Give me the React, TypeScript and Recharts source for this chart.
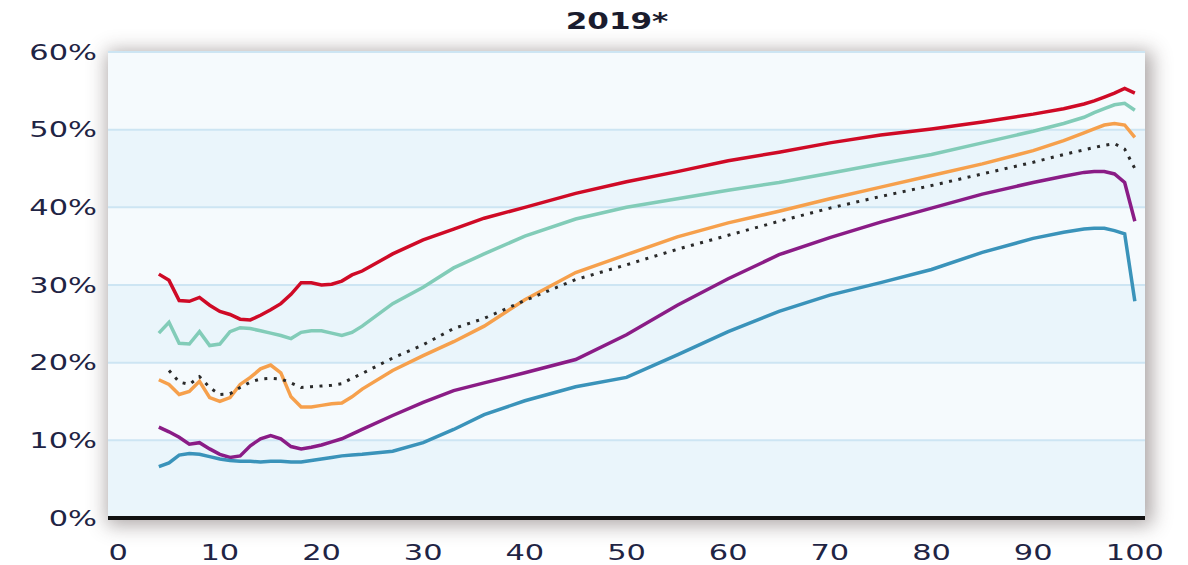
import { CartesianGrid, Line, LineChart, XAxis, YAxis } from "recharts";

const ages = [
	4, 5, 6, 7, 8, 9, 10, 11, 12, 13, 14, 15, 16, 17, 18, 19, 20, 21, 22, 23, 24,
	27, 30, 33, 36, 40, 45, 50, 55, 60, 65, 70, 75, 80, 85, 90, 93, 95, 96, 97,
	98, 99, 100,
];

const red = [
	31.4, 30.6, 28.0, 27.9, 28.4, 27.4, 26.6, 26.2, 25.6, 25.5, 26.1, 26.8, 27.6,
	28.8, 30.3, 30.3, 30.0, 30.1, 30.5, 31.3, 31.8, 34.0, 35.8, 37.2, 38.6, 40.0,
	41.8, 43.3, 44.6, 46.0, 47.1, 48.3, 49.3, 50.1, 51.0, 52.0, 52.7, 53.3, 53.7,
	54.2, 54.7, 55.3, 54.7,
];

const teal = [
	23.8, 25.2, 22.5, 22.4, 24.0, 22.2, 22.4, 24.0, 24.5, 24.4, 24.1, 23.8, 23.5,
	23.1, 23.9, 24.1, 24.1, 23.8, 23.5, 23.9, 24.7, 27.6, 29.7, 32.2, 34.0, 36.3,
	38.5, 40.0, 41.1, 42.2, 43.2, 44.4, 45.6, 46.8, 48.3, 49.8, 50.8, 51.6, 52.2,
	52.7, 53.2, 53.4, 52.5,
];

const orange = [
	17.8, 17.2, 15.9, 16.3, 17.6, 15.5, 15.0, 15.5, 17.2, 18.1, 19.2, 19.7, 18.7,
	15.6, 14.3, 14.3, 14.5, 14.7, 14.8, 15.6, 16.6, 19.0, 20.9, 22.7, 24.7, 28.1,
	31.6, 33.9, 36.2, 38.0, 39.5, 41.1, 42.6, 44.1, 45.6, 47.3, 48.6, 49.6, 50.1,
	50.6, 50.8, 50.6, 49.0,
];

const average = [
	null, 19.0, 17.5, 17.2, 18.2, 16.8, 15.9, 16.0, 16.8, 17.5, 17.9, 18.0, 17.9,
	17.4, 16.8, 16.9, 17.0, 17.1, 17.3, 18.0, 18.6, 20.6, 22.3, 24.4, 25.7, 28.0,
	30.7, 32.6, 34.6, 36.4, 38.2, 39.9, 41.4, 42.8, 44.3, 45.8, 46.8, 47.4, 47.7,
	48.0, 48.2, 47.5, 45.0,
];

const purple = [
	11.7, 11.1, 10.4, 9.5, 9.7, 8.9, 8.2, 7.8, 8.0, 9.3, 10.2, 10.6, 10.2, 9.2,
	8.9, 9.1, 9.4, 9.8, 10.2, 10.8, 11.4, 13.2, 14.9, 16.4, 17.4, 18.7, 20.4, 23.6,
	27.4, 30.8, 33.9, 36.1, 38.1, 39.9, 41.7, 43.2, 44.0, 44.5, 44.6, 44.6, 44.3,
	43.2, 38.2,
];

const blue = [
	6.6, 7.1, 8.1, 8.3, 8.2, 7.9, 7.6, 7.4, 7.3, 7.3, 7.2, 7.3, 7.3, 7.2, 7.2,
	7.4, 7.6, 7.8, 8.0, 8.1, 8.2, 8.6, 9.7, 11.4, 13.3, 15.1, 16.9, 18.1, 21.0,
	24.0, 26.6, 28.7, 30.3, 32.0, 34.2, 36.0, 36.8, 37.2, 37.3, 37.3, 37.0, 36.6,
	27.9,
];

const xTicks = [0, 10, 20, 30, 40, 50, 60, 70, 80, 90, 100];
const yTicks = [0, 10, 20, 30, 40, 50, 60];

const data = ages.map((age, i) => ({
	age,
	red: red[i],
	teal: teal[i],
	orange: orange[i],
	average: average[i],
	purple: purple[i],
	blue: blue[i],
}));

const FONT = '"DejaVu Sans", Verdana, sans-serif';
const TICK_COLOR = "#1f2444";

function YTick({ x, y, payload }: any) {
	return (
		<g transform={`translate(${x},${y})`}>
			<text
				transform="scale(1.45,1)"
				textAnchor="end"
				y={7.5}
				fontSize={21}
				fontFamily={FONT}
				fill={TICK_COLOR}
			>
				{payload.value}%
			</text>
		</g>
	);
}

function XTick({ x, y, payload }: any) {
	return (
		<g transform={`translate(${x},${y})`}>
			<text
				transform="scale(1.45,1)"
				textAnchor="middle"
				y={42}
				fontSize={21}
				fontFamily={FONT}
				fill={TICK_COLOR}
			>
				{payload.value}
			</text>
		</g>
	);
}

export default function App() {
	return (
		<div
			style={{
				position: "absolute",
				left: 0,
				top: 0,
				width: 1188,
				height: 565,
				background: "#fff",
				overflow: "hidden",
			}}
		>
			{/* shadow behind the plot area */}
			<div
				style={{
					position: "absolute",
					left: 108,
					top: 52,
					width: 1037,
					height: 466,
					background: "#fff",
					boxShadow: "3px 3px 18px 4px rgba(60,45,45,0.42)",
				}}
			/>
			<div
				style={{
					position: "absolute",
					left: 617,
					top: 10,
					transform: "translateX(-50%) scaleX(1.35)",
					fontFamily: FONT,
					fontWeight: "bold",
					fontSize: 23,
					lineHeight: "23px",
					color: "#1a1c2e",
					whiteSpace: "nowrap",
				}}
			>
				2019*
			</div>
			<LineChart
				width={1188}
				height={565}
				data={data}
				margin={{ top: 52, right: 43, bottom: 7, left: 0 }}
				style={{ position: "absolute", left: 0, top: 0 }}
			>
				<CartesianGrid
					vertical={false}
					stroke="#cde5f3"
					strokeWidth={2}
					horizontalFill={["#f5fafd", "#eaf5fb"]}
					fillOpacity={1}
				/>
				<XAxis
					dataKey="age"
					type="number"
					domain={[-1, 101]}
					ticks={xTicks}
					interval={0}
					height={40}
					tickSize={0}
					tickMargin={0}
					tickLine={false}
					axisLine={{ stroke: "#111", strokeWidth: 4 }}
					tick={<XTick />}
				/>
				<YAxis
					type="number"
					domain={[0, 60]}
					ticks={yTicks}
					interval={0}
					width={108}
					tickSize={0}
					tickMargin={11}
					tickLine={false}
					axisLine={false}
					tick={<YTick />}
				/>
				<Line
					dataKey="red"
					type="linear"
					stroke="#cf0a26"
					strokeWidth={3.5}
					dot={false}
					activeDot={false}
					isAnimationActive={false}
				/>
				<Line
					dataKey="teal"
					type="linear"
					stroke="#82ccb8"
					strokeWidth={3.5}
					dot={false}
					activeDot={false}
					isAnimationActive={false}
				/>
				<Line
					dataKey="orange"
					type="linear"
					stroke="#f6a04c"
					strokeWidth={3.5}
					dot={false}
					activeDot={false}
					isAnimationActive={false}
				/>
				<Line
					dataKey="average"
					type="linear"
					stroke="#2a2a2a"
					strokeWidth={3}
					strokeDasharray="3 6.5"
					dot={false}
					activeDot={false}
					isAnimationActive={false}
				/>
				<Line
					dataKey="purple"
					type="linear"
					stroke="#8a1c86"
					strokeWidth={3.5}
					dot={false}
					activeDot={false}
					isAnimationActive={false}
				/>
				<Line
					dataKey="blue"
					type="linear"
					stroke="#3a93ba"
					strokeWidth={3.5}
					dot={false}
					activeDot={false}
					isAnimationActive={false}
				/>
			</LineChart>
		</div>
	);
}
